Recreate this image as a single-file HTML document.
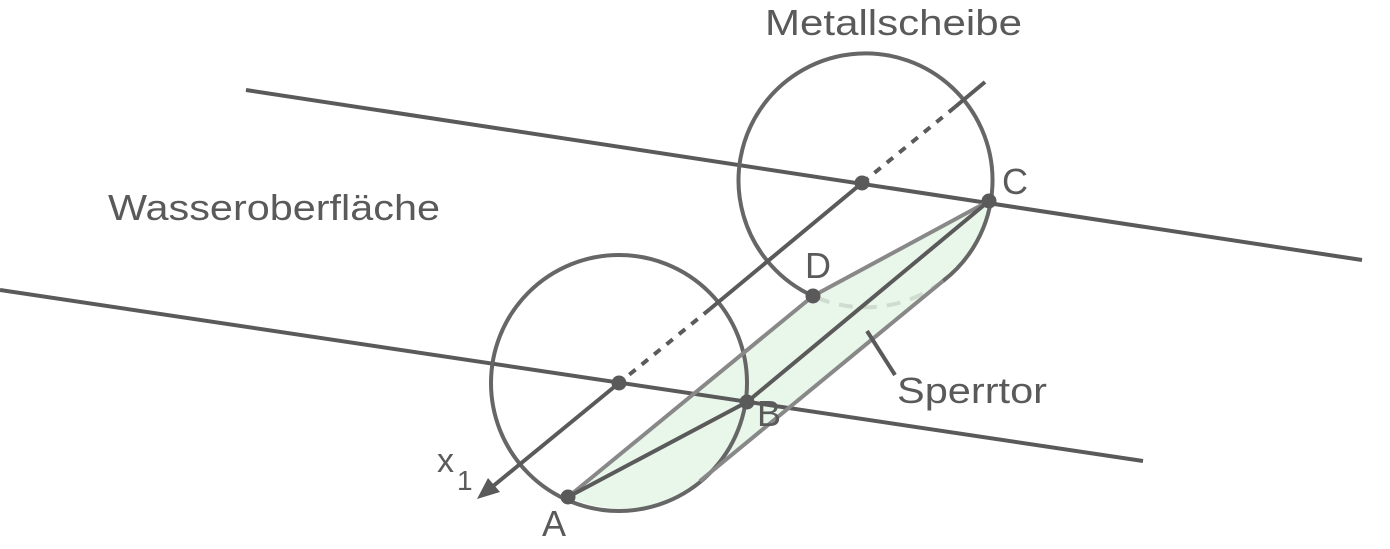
<!DOCTYPE html>
<html><head><meta charset="utf-8"><style>
html,body{margin:0;padding:0;background:#fff;}
svg{display:block;}
text{font-family:"Liberation Sans",sans-serif;fill:#5a5a5a;}
</style></head><body>
<svg width="1390" height="549" viewBox="0 0 1390 549" xmlns="http://www.w3.org/2000/svg">
<!-- green cylinder region -->
<path d="M568,497 L813,296 L989,201 A127,127 0 0 1 943,281 L700,481 A127,127 0 0 1 568,497 Z" fill="#e9f6ea" stroke="none"/>
<!-- water lines -->
<line x1="246" y1="90" x2="1362" y2="260" stroke="#5a5a5a" stroke-width="4"/>
<line x1="0" y1="290" x2="1143" y2="461" stroke="#5a5a5a" stroke-width="4"/>
<!-- lower circle -->
<circle cx="619" cy="383" r="128" fill="none" stroke="#666" stroke-width="4"/>
<!-- upper circle solid arc D -> around -> T1 -->
<path d="M813,296 A127,127 0 1 1 943,281" fill="none" stroke="#666" stroke-width="4"/>
<!-- hidden dashed arc -->
<path d="M943,281 A127,127 0 0 1 813,296" fill="none" stroke="#cfdccf" stroke-width="4" stroke-dasharray="14,10"/>
<!-- cylinder edges -->
<line x1="568" y1="497" x2="813" y2="296" stroke="#888" stroke-width="4"/>
<line x1="813" y1="296" x2="989" y2="201" stroke="#888" stroke-width="4"/>
<line x1="943" y1="281" x2="700" y2="481" stroke="#888" stroke-width="4"/>
<!-- A-B, B-C -->
<line x1="568" y1="497" x2="747" y2="402" stroke="#5a5a5a" stroke-width="4"/>
<line x1="747" y1="402" x2="989" y2="201" stroke="#5a5a5a" stroke-width="4"/>
<!-- axis -->
<line x1="985" y1="82" x2="955" y2="107" stroke="#5a5a5a" stroke-width="4"/>
<line x1="955" y1="107" x2="862" y2="183" stroke="#5a5a5a" stroke-width="4" stroke-dasharray="8,8"/>
<line x1="862" y1="183" x2="710" y2="309" stroke="#5a5a5a" stroke-width="4"/>
<line x1="710" y1="309" x2="619" y2="383" stroke="#5a5a5a" stroke-width="4" stroke-dasharray="8,8"/>
<line x1="619" y1="383" x2="492" y2="487" stroke="#5a5a5a" stroke-width="4"/>
<polygon points="477,499 488,478 500,492" fill="#5a5a5a"/>
<!-- sperrtor pointer -->
<line x1="867" y1="331" x2="895" y2="375" stroke="#5a5a5a" stroke-width="4"/>
<!-- points -->
<g fill="#5a5a5a">
<circle cx="862" cy="183" r="7.5"/>
<circle cx="619" cy="383" r="7.5"/>
<circle cx="989" cy="201" r="7.5"/>
<circle cx="813" cy="296" r="7.5"/>
<circle cx="747" cy="402" r="7.5"/>
<circle cx="568" cy="497" r="7.5"/>
</g>
<!-- labels -->
<text x="765" y="35" font-size="36" textLength="257" lengthAdjust="spacingAndGlyphs">Metallscheibe</text>
<text x="108" y="220" font-size="36" textLength="332" lengthAdjust="spacingAndGlyphs">Wasseroberfläche</text>
<text x="897" y="403" font-size="36" textLength="150" lengthAdjust="spacingAndGlyphs">Sperrtor</text>
<text x="1002" y="194" font-size="36">C</text>
<text x="805" y="278" font-size="36">D</text>
<text x="757" y="426" font-size="36">B</text>
<text x="542" y="536" font-size="36">A</text>
<text x="437" y="472" font-size="34">x</text>
<text x="457" y="490" font-size="28">1</text>
</svg>
</body></html>
